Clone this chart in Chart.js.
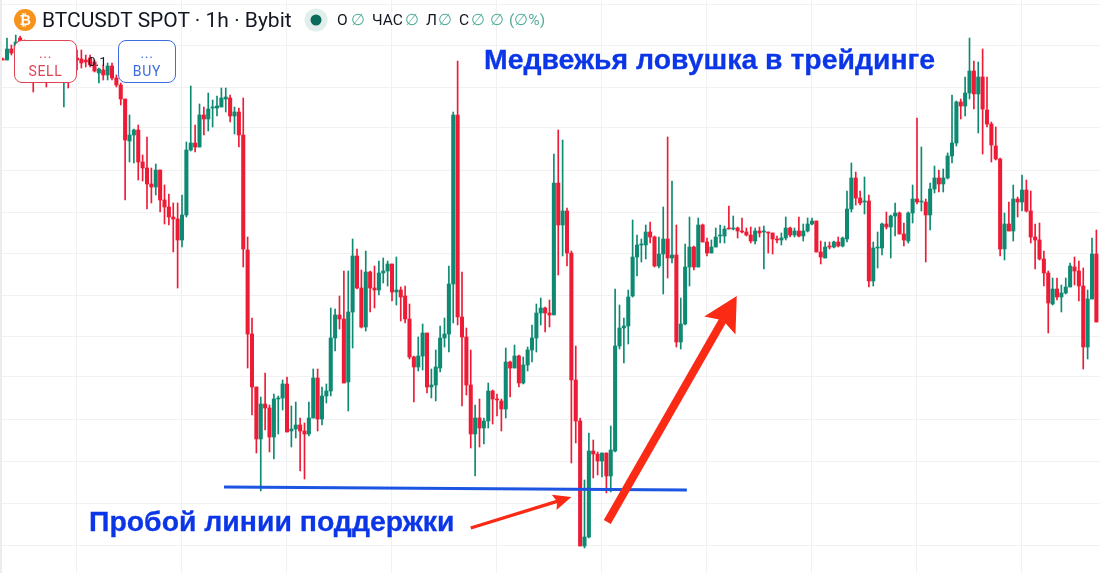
<!DOCTYPE html>
<html lang="ru"><head><meta charset="utf-8">
<script src="https://cdn.jsdelivr.net/npm/chart.js@4"></script>
<style>
html,body{margin:0;padding:0;background:#fff;width:1100px;height:573px;overflow:hidden}
#wrap{position:relative;width:1100px;height:573px;overflow:hidden;font-family:Roboto,"Liberation Sans",sans-serif}
canvas{position:absolute;left:0;top:0;filter:blur(0.35px)}
.t{position:absolute;white-space:nowrap;line-height:1}
.edge{position:absolute;left:0;top:0;width:2px;height:573px;background:#ececee}
.btn{position:absolute;box-sizing:border-box;background:#fff;border:1.5px solid;border-radius:8px;text-align:center;font-size:14px;letter-spacing:.7px}
.btn div{position:absolute;left:0;right:0;line-height:1}
.big{font-family:"Liberation Sans",Arial,sans-serif;font-weight:700;font-size:28.4px;color:#0B36E8;-webkit-text-stroke:.3px #0B36E8}
.lg{top:12.5px;font-size:15.5px;color:#131722}
.g{color:#55ad9b}
</style></head><body>
<div id="wrap">
<canvas id="c" width="1100" height="573"></canvas>
<div class="edge"></div>
<svg style="position:absolute;left:0;top:0" width="340" height="40"><circle cx="25" cy="20" r="11" fill="#F7931A"/><circle cx="316" cy="20" r="11.5" fill="#E1EFEC"/><circle cx="316" cy="20" r="5.5" fill="#0B6B5A"/></svg>
<div class="t" style="left:19.5px;top:13px;font-size:14px;font-weight:700;color:#fff;font-family:'Liberation Sans'">₿</div>
<div class="t" style="left:42px;top:10px;font-size:21px;color:#131722">BTCUSDT SPOT · 1h · Bybit</div>
<div class="t lg" style="left:337px">O</div><div class="t lg g" style="left:351px">∅</div>
<div class="t lg" style="left:372px">ЧАС</div><div class="t lg g" style="left:405px">∅</div>
<div class="t lg" style="left:426px">Л</div><div class="t lg g" style="left:438px">∅</div>
<div class="t lg" style="left:459px">С</div><div class="t lg g" style="left:471px">∅</div>
<div class="t lg g" style="left:490px">∅</div><div class="t lg g" style="left:509px">(∅%)</div>
<div class="btn" style="left:14px;top:40px;width:63px;height:43px;border-color:#DE4455;color:#DE4455"><div style="top:5px">...</div><div style="top:23px">SELL</div></div>
<div class="btn" style="left:118px;top:40px;width:58px;height:43px;border-color:#3C6CE0;color:#3C6CE0"><div style="top:5px">...</div><div style="top:23px">BUY</div></div>
<div class="t" style="left:88px;top:55px;font-size:13.5px;color:#131722">0.1</div>
<div class="t big" style="left:484px;top:45px">Медвежья ловушка в трейдинге</div>
<div class="t big" style="left:89px;top:507px">Пробой линии поддержки</div>
</div>
<script>
const opens=[541,540,551,551,562,558,550,540,530,538,
532,526,538,528,524,540,532,542,541,540,
542,538,527,530,525,534,522,515,501,459,
465,470,438,432,416,413,430,400,393,383,
381,360,385,450,457,453,485,481,492,492,
493,501,502,484,488,465,350,266,213,161,
196,192,163,201,202,216,169,171,175,169,
166,182,222,181,204,209,262,285,281,218,
288,344,312,273,328,312,310,327,329,336,
308,310,304,281,243,233,244,267,213,215,
232,262,266,316,485,283,263,215,166,182,
172,179,209,201,199,191,238,232,244,217,
235,250,262,287,292,287,285,417,375,389,
347,220,179,54,63,149,146,139,147,124,
149,254,272,274,304,343,355,355,368,363,
334,346,361,342,345,258,276,333,353,333,
375,358,347,353,364,364,372,371,372,369,
368,365,359,369,368,368,367,361,360,362,
372,365,369,364,369,376,379,348,342,354,
353,358,354,361,391,422,402,398,399,319,
352,352,376,373,384,387,366,359,387,401,
398,398,385,411,422,416,422,444,457,498,
494,507,529,506,523,490,476,454,441,351,
376,369,401,398,410,389,363,360,341,327,
296,311,303,307,313,333,329,314,253,301,346];
const highs=[542,562,555,565,564,560,555,545,545,545,
540,544,545,540,548,546,550,550,550,545,
545,540,532,535,537,537,525,517,501,485,
471,475,445,463,432,436,430,415,406,397,
397,405,458,514,475,496,493,507,500,504,
512,512,505,493,492,502,363,282,213,203,
227,195,206,204,220,223,194,198,182,177,
198,231,231,213,216,292,291,304,329,329,
361,351,330,349,329,334,339,342,339,336,
343,313,314,296,244,263,276,267,231,250,
274,282,334,488,539,328,272,250,195,201,
182,217,210,206,201,252,239,255,245,243,
253,275,296,302,293,300,446,470,460,392,
349,254,182,120,167,160,148,147,147,174,
311,295,282,310,380,365,361,375,378,364,
363,393,463,419,375,302,356,383,354,382,
376,362,360,372,375,374,394,384,373,382,
372,373,372,373,374,368,367,364,367,383,
373,372,383,376,382,382,379,359,358,358,
359,363,363,409,437,428,409,423,405,358,
368,377,388,385,397,388,377,388,415,482,
453,401,417,434,430,431,447,505,499,501,
523,562,539,538,551,523,478,473,442,387,
398,415,403,425,420,409,376,377,349,329,
322,322,315,322,337,343,339,332,310,362,370];
const lows=[540,540,545,545,556,545,530,508,520,522,
513,520,520,518,493,512,522,530,532,533,
533,528,517,520,520,520,513,495,400,438,
437,420,419,391,397,405,388,376,375,348,
312,353,383,449,448,453,465,469,473,484,
493,488,478,466,453,333,232,185,147,109,
170,148,141,166,190,168,153,162,129,121,
164,182,169,175,197,204,249,271,217,189,
252,311,272,269,288,292,305,317,314,299,
295,279,277,241,198,229,230,207,202,199,
228,253,248,277,275,194,205,152,124,153,
156,172,176,184,169,182,203,232,213,216,
229,238,248,275,268,273,285,325,344,334,
137,157,54,52,62,122,125,123,107,108,
148,251,237,256,303,324,338,341,357,333,
332,306,322,337,253,251,275,314,330,333,
358,344,347,353,357,357,371,370,362,367,
364,357,356,363,331,347,346,357,355,360,
363,363,363,359,368,375,348,336,342,351,
352,353,353,358,388,395,395,386,313,314,
332,345,371,342,364,366,354,357,377,396,
389,338,370,407,408,408,421,437,454,481,
484,501,491,467,446,473,438,440,344,340,
369,359,383,389,388,357,331,340,314,267,
295,300,288,306,313,315,299,231,241,301,278];
const closes=[540,551,547,558,558,550,540,530,538,532,
526,538,528,524,540,532,542,540,537,538,
535,529,531,525,534,522,515,501,460,465,
470,438,432,416,413,430,400,393,383,381,
360,385,450,457,453,485,481,491,493,494,
502,503,484,488,465,351,266,213,161,196,
192,163,201,202,216,168,171,175,169,166,
182,222,181,204,209,262,285,281,217,288,
344,312,273,328,312,310,327,329,336,308,
310,303,281,243,233,244,267,213,215,233,
262,266,316,485,283,263,215,166,182,172,
179,209,201,200,191,238,232,244,217,235,
250,262,287,292,287,285,417,375,389,347,
220,179,54,63,149,146,139,147,124,150,
254,272,274,303,343,355,356,368,363,334,
346,361,342,345,258,276,333,353,333,375,
358,347,353,363,365,371,371,372,369,368,
365,359,369,367,369,367,361,360,362,372,
365,369,364,369,376,379,348,343,353,353,
358,354,362,391,422,402,397,399,319,352,
353,376,373,384,387,366,360,387,401,398,
399,385,411,422,416,422,444,457,498,494,
507,529,506,523,491,476,455,441,351,376,
369,401,398,410,389,363,360,341,327,297,
311,303,307,313,334,329,314,253,301,346,278];

// Price grid levels, hourly grid (one line per day), support line and arrows, in chart units [hour, price]
const gridLevels=[596,555,513,472,430,388,347,305,264,223,181,139,97,55];
const dayLines=[17,41,65,89,113,137,161,185,209,233];
const supportHours=[50.6,156.4];
const supportPrices=[113,110];
const arrowSmall=[[107,72],[130,103]];
const arrowBig=[[138.2,78],[167.8,304]];

const RED='#EE1B36',GREEN='#0E8A72',ARROW='#FB2A14';
const hours=opens.map((_,i)=>i);
const colors=hours.map(i=>closes[i]>=opens[i]?GREEN:RED);

const arrows={id:'arrows',afterDatasetsDraw(ch){
  const {ctx,scales:{x,y}}=ch;
  function arrow(a,sw,len,half,notch){
    const x0=x.getPixelForValue(a[0][0]),y0=y.getPixelForValue(a[0][1]);
    const x1=x.getPixelForValue(a[1][0]),y1=y.getPixelForValue(a[1][1]);
    const ang=Math.atan2(y1-y0,x1-x0),c=Math.cos(ang),s=Math.sin(ang);
    ctx.save();ctx.strokeStyle=ARROW;ctx.fillStyle=ARROW;ctx.lineWidth=sw;
    ctx.beginPath();ctx.moveTo(x0,y0);ctx.lineTo(x1-c*notch,y1-s*notch);ctx.stroke();
    ctx.beginPath();ctx.moveTo(x1,y1);
    ctx.lineTo(x1-c*len-s*half,y1-s*len+c*half);
    ctx.lineTo(x1-c*notch,y1-s*notch);
    ctx.lineTo(x1-c*len+s*half,y1-s*len-c*half);
    ctx.closePath();ctx.fill();ctx.restore();
  }
  arrow(arrowSmall,3.4,18,8,15);
  arrow(arrowBig,8,34,18,28);
}};

new Chart(document.getElementById('c'),{
  data:{datasets:[
    {type:'line',data:supportHours.map((h,i)=>({x:h,y:supportPrices[i]})),borderColor:'#1C55E2',borderWidth:2.8,pointRadius:0,order:0},
    {type:'bar',data:hours.map(i=>({x:i,y:[opens[i],closes[i]]})),backgroundColor:colors,barThickness:3.4,grouped:false,order:1,borderWidth:0,minBarLength:1},
    {type:'bar',data:hours.map(i=>({x:i,y:[lows[i],highs[i]]})),backgroundColor:colors,barThickness:1,grouped:false,order:2,borderWidth:0}
  ]},
  options:{
    responsive:false,animation:false,devicePixelRatio:1,
    layout:{padding:0},
    plugins:{legend:{display:false},tooltip:{enabled:false},title:{display:false}},
    scales:{
      x:{type:'linear',min:-0.6,max:250.8286,offset:false,
        border:{display:false},grid:{color:'#F1F1F4',lineWidth:1,drawTicks:false,offset:false},
        ticks:{display:false},
        afterBuildTicks(s){s.ticks=dayLines.map(v=>({value:v}));}},
      y:{type:'linear',min:27,max:600,
        border:{display:false},grid:{color:'#F1F1F4',lineWidth:1,drawTicks:false},
        ticks:{display:false},
        afterBuildTicks(s){s.ticks=gridLevels.map(v=>({value:v}));}}
    }
  },
  plugins:[arrows]
});
</script>
</body></html>
